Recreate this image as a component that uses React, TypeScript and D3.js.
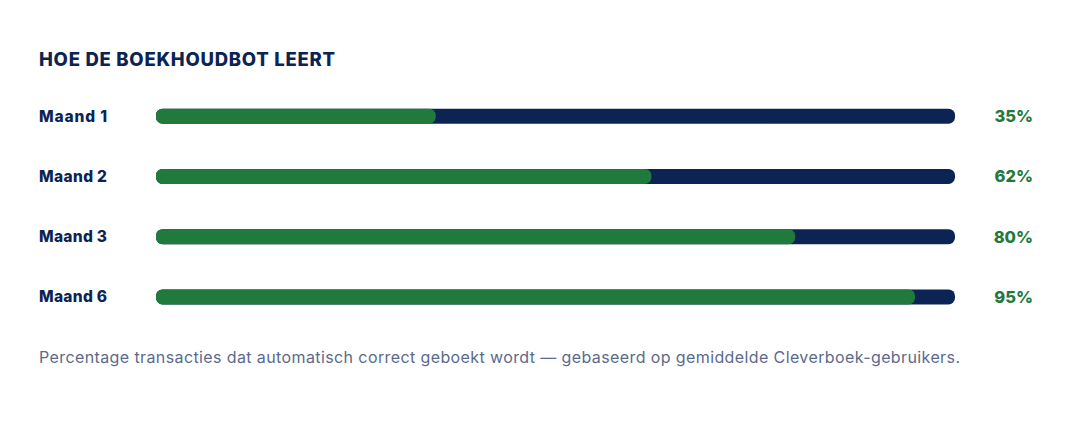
import { useEffect, useRef } from 'react'
import * as d3 from 'd3'

const months = ['Maand 1', 'Maand 2', 'Maand 3', 'Maand 6']
const accuracy = [35, 62, 80, 95]

const title = 'HOE DE BOEKHOUDBOT LEERT'
const footnote =
  'Percentage transacties dat automatisch correct geboekt wordt — gebaseerd op gemiddelde Cleverboek-gebruikers.'

const navy = '#0c2454'
const green = '#1f7a3b'
const muted = '#5b6a8c'

export default function App() {
  const svgRef = useRef<SVGSVGElement>(null)

  useEffect(() => {
    document.body.style.margin = '0'
    if (!svgRef.current) return

    const width = 1083
    const height = 423
    const svg = d3.select(svgRef.current)
    svg.selectAll('*').remove()
    svg.attr('width', width).attr('height', height)

    svg.append('rect')
      .attr('width', width)
      .attr('height', height)
      .attr('fill', '#ffffff')

    const font = 'Inter, "Open Sans", sans-serif'

    svg.append('text')
      .attr('x', 39)
      .attr('y', 66)
      .attr('textLength', 296)
      .attr('lengthAdjust', 'spacing')
      .style('font-family', font)
      .style('font-size', '18.5px')
      .style('font-weight', 800)
      .style('fill', navy)
      .text(title)

    // bar track geometry
    const x = d3.scaleLinear().domain([0, 100]).range([156, 955])
    const y = d3.scaleBand<string>()
      .domain(months)
      .range([86, 327])
      .paddingInner(0)
    const barH = 15

    const rows = svg.selectAll('.row')
      .data(months)
      .enter()
      .append('g')
      .attr('class', 'row')
      .attr('transform', d => `translate(0,${y(d)! + y.bandwidth() / 2})`)

    rows.append('text')
      .attr('x', 39)
      .attr('y', 5.5)
      .attr('textLength', 68)
      .attr('lengthAdjust', 'spacing')
      .style('font-family', font)
      .style('font-size', '15.5px')
      .style('font-weight', 800)
      .style('fill', navy)
      .text(d => d)

    rows.append('rect')
      .attr('x', x(0))
      .attr('y', -barH / 2)
      .attr('width', x(100) - x(0))
      .attr('height', barH)
      .attr('rx', 6.5)
      .style('fill', navy)

    rows.append('rect')
      .attr('x', x(0))
      .attr('y', -barH / 2)
      .attr('width', (_, i) => x(accuracy[i]) - x(0))
      .attr('height', barH)
      .attr('rx', 6.5)
      .style('fill', green)

    rows.append('text')
      .attr('x', 1033)
      .attr('y', 6)
      .attr('text-anchor', 'end')
      .style('font-family', font)
      .style('font-size', '16.5px')
      .style('font-weight', 800)
      .style('fill', green)
      .text((_, i) => `${accuracy[i]}%`)

    svg.append('text')
      .attr('x', 39)
      .attr('y', 363)
      .attr('textLength', 921)
      .attr('lengthAdjust', 'spacing')
      .style('font-family', font)
      .style('font-size', '16px')
      .style('font-weight', 400)
      .style('fill', muted)
      .text(footnote)
  }, [])

  return <svg ref={svgRef} style={{ display: 'block' }}></svg>
}
